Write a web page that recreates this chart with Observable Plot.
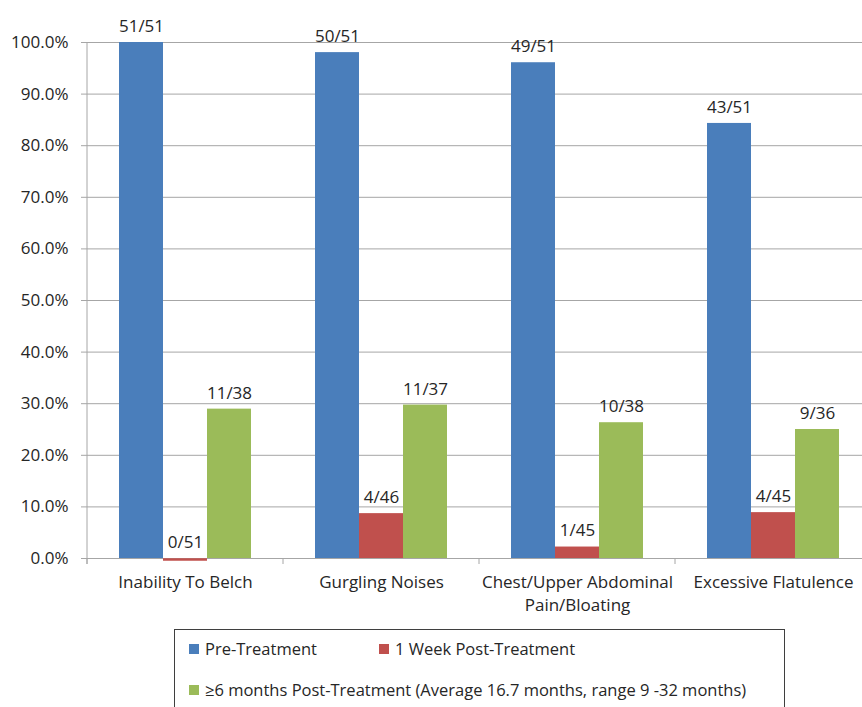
<!DOCTYPE html>
<html>
<head>
<meta charset="utf-8">
<script src="https://cdn.jsdelivr.net/npm/d3@7"></script>
<script src="https://cdn.jsdelivr.net/npm/@observablehq/plot@0.6"></script>
<style>
  html, body { margin: 0; padding: 0; background: #fff; overflow: hidden; }
  #wrap { position: relative; width: 862px; height: 707px; font-family: "Open Sans", Lato, sans-serif; color: #262626; }
  #legend { position: absolute; left: 174px; top: 629px; width: 611px; height: 90px; border: 1.5px solid #3f3f3f; box-sizing: border-box; font-size: 16.5px; }
  .item { position: absolute; display: flex; align-items: center; white-space: nowrap; }
  .sw { width: 10px; height: 10px; margin-right: 6px; }
</style>
</head>
<body>
<div id="wrap">
  <div id="chart"></div>
  <div id="legend"></div>
</div>
<script>
const categories = ["Inability To Belch", "Gurgling Noises", "Chest/Upper Abdominal\nPain/Bloating", "Excessive Flatulence"];
const series = ["Pre-Treatment", "1 Week Post-Treatment", "≥6 months Post-Treatment (Average 16.7 months, range 9 -32 months)"];
const colors = ["#4a7ebb", "#c0504d", "#9bbb59"];
const preCount = [51, 50, 49, 43];
const preTotal = [51, 51, 51, 51];
const weekCount = [0, 4, 1, 4];
const weekTotal = [51, 46, 45, 45];
const sixCount = [11, 11, 10, 9];
const sixTotal = [38, 37, 38, 36];
const yTicks = [0, 0.1, 0.2, 0.3, 0.4, 0.5, 0.6, 0.7, 0.8, 0.9, 1.0];

const counts = [preCount, weekCount, sixCount];
const totals = [preTotal, weekTotal, sixTotal];
const rows = [];
categories.forEach((c, i) => {
  series.forEach((s, j) => {
    rows.push({cat: c, series: s, value: counts[j][i] / totals[j][i], label: `${counts[j][i]}/${totals[j][i]}`});
  });
});

const font = "'Open Sans', Lato, sans-serif";
const chart = Plot.plot({
  width: 871,
  height: 622,
  marginLeft: 87,
  marginRight: 0,
  marginTop: 42,
  marginBottom: 64,
  style: {maxWidth: "none", fontFamily: font, color: "#262626", background: "transparent"},
  fx: {domain: categories, paddingInner: 0, paddingOuter: 0, label: null, axis: null},
  x: {domain: series, paddingInner: 0, paddingOuter: 0.727, axis: null},
  y: {domain: [0, 1], label: null},
  color: {domain: series, range: colors},
  marks: [
    Plot.gridY({ticks: yTicks, stroke: "#a6a6a6", strokeOpacity: 1}),
    Plot.axisY({ticks: yTicks, tickFormat: d3.format(".1%"), tickSize: 6, tickPadding: 13, stroke: "#a6a6a6", color: "#262626", fontSize: 17, label: null}),
    Plot.axisFx({anchor: "bottom", tickSize: 0, tickPadding: 13, fontSize: 17, lineHeight: 1.35, color: "#262626", label: null}),
    Plot.barY(rows, {fx: "cat", x: "series", y: "value", fill: "series"}),
    Plot.tickY(rows.filter(d => d.value === 0), {fx: "cat", x: "series", y: "value", stroke: "series", strokeWidth: 2.5, dy: 1}),
    Plot.text(rows, {fx: "cat", x: "series", y: "value", text: "label", dy: -16, fontSize: 17, fill: "#262626", lineAnchor: "middle"})
  ]
});
document.getElementById("chart").appendChild(chart);

// x-axis boundary ticks and left axis line, positioned from Plot's own scales
const fx = chart.scale("fx");
const ys = chart.scale("y");
const svg = d3.select(chart);
const y0 = ys.apply(0), y1 = ys.apply(1);
const bounds = categories.map(c => fx.apply(c));
bounds.push(fx.apply(categories[categories.length - 1]) + fx.bandwidth);
svg.append("g").selectAll("line").data(bounds).join("line")
  .attr("x1", d => d).attr("x2", d => d)
  .attr("y1", y0).attr("y2", y0 + 6)
  .attr("stroke", "#a6a6a6");
svg.append("line")
  .attr("x1", bounds[0]).attr("x2", bounds[0])
  .attr("y1", y1).attr("y2", y0 + 6)
  .attr("stroke", "#a6a6a6");

// legend
const legend = d3.select("#legend");
const pos = [[14, 7], [204, 7], [14, 48]];
series.forEach((s, i) => {
  const it = legend.append("div").attr("class", "item")
    .style("left", pos[i][0] + "px").style("top", pos[i][1] + "px");
  it.append("div").attr("class", "sw").style("background", colors[i]);
  it.append("span").text(s);
});
</script>
</body>
</html>
